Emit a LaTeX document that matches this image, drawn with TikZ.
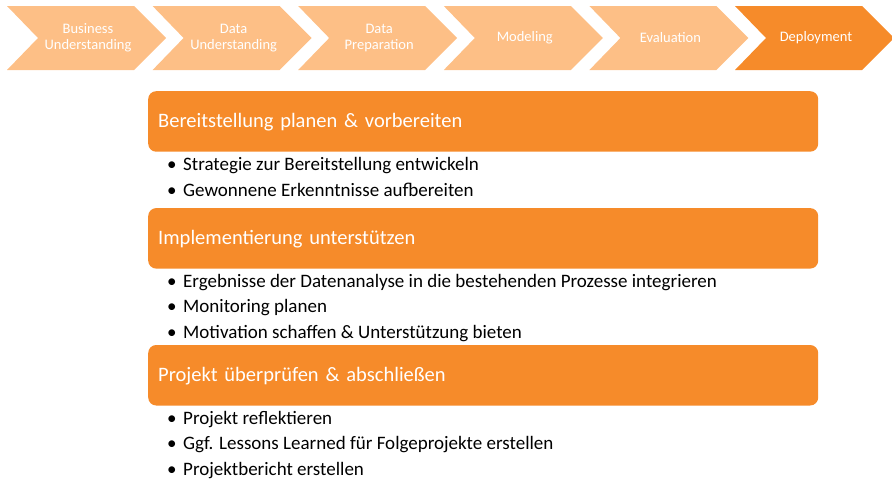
\documentclass[tikz,border=0pt]{standalone}
\usepackage{fontspec}
\setmainfont{Carlito}
\usetikzlibrary{positioning}
\definecolor{phaselight}{HTML}{FDBF86}
\definecolor{phasedark}{HTML}{F68B2A}
\newcommand{\itm}[1]{\makebox[16pt][l]{\textbullet}#1}

\begin{document}
\begin{tikzpicture}[
    x=1pt,y=-1pt,
    phase/.style={text=white,align=center,inner sep=0pt,font=\fontsize{14.5}{16}\selectfont},
    head/.style={fill=phasedark,rounded corners=8pt,text=white,anchor=north west,
      minimum height=60.5pt,text width=650pt,inner xsep=10pt,align=left,
      text height=16pt,text depth=3pt,font=\fontsize{20.5}{24}\selectfont},
    item/.style={anchor=north west,inner sep=0pt,text height=18.5pt,text depth=6.5pt,
      font=\fontsize{19}{22}\selectfont},
  ]
  \useasboundingbox (0,0) rectangle (892,479);

  % process chevrons
  \foreach \lab/\col [count=\i] in {{Business\\Understanding}/phaselight,
      {Data\\Understanding}/phaselight,{Data\\Preparation}/phaselight,
      Modeling/phaselight,Evaluation/phaselight,Deployment/phasedark}{
    \pgfmathsetmacro\xa{7+(\i-1)*145.6}
    \fill[\col] (\xa,6) -- ++(127,0) -- ++(32,32) -- ++(-32,32) -- ++(-127,0) -- ++(31,-32) -- cycle;
    \node[phase] (ph\i) at (\xa+81,38) {\lab};
  }

  % task headers
  \node[head] (plan) at (148,91) {Bereitstellung planen \& vorbereiten};
  \node[head,below=56pt of plan] (impl) {Implementierung unterstützen};
  \node[head,below=76pt of impl] (close) {Projekt überprüfen \& abschließen};

  % bullet lists
  \node[item] (plan1) at ([xshift=19pt]plan.south west) {\itm{Strategie zur Bereitstellung entwickeln}};
  \node[item,below=0pt of plan1.south west,anchor=north west] (plan2) {\itm{Gewonnene Erkenntnisse aufbereiten}};

  \node[item] (impl1) at ([xshift=19pt]impl.south west) {\itm{Ergebnisse der Datenanalyse in die bestehenden Prozesse integrieren}};
  \node[item,below=0pt of impl1.south west,anchor=north west] (impl2) {\itm{Monitoring planen}};
  \node[item,below=0pt of impl2.south west,anchor=north west] (impl3) {\itm{Motivation schaffen \& Unterstützung bieten}};

  \node[item] (close1) at ([xshift=19pt]close.south west) {\itm{Projekt reflektieren}};
  \node[item,below=0pt of close1.south west,anchor=north west] (close2) {\itm{Ggf. Lessons Learned für Folgeprojekte erstellen}};
  \node[item,below=0pt of close2.south west,anchor=north west] (close3) {\itm{Projektbericht erstellen}};
\end{tikzpicture}
\end{document}
